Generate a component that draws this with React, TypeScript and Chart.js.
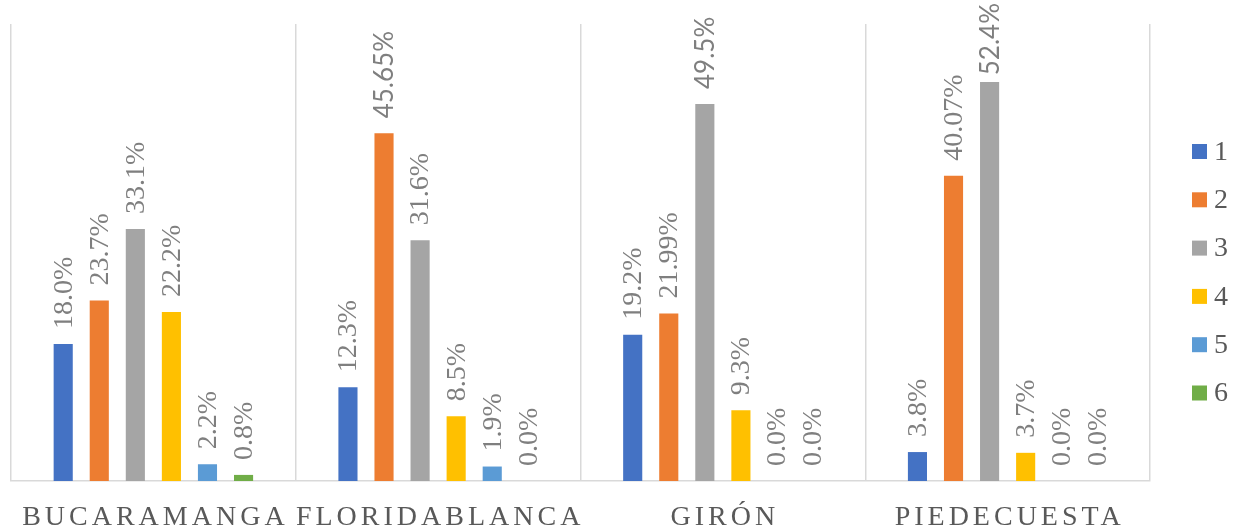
import React, { useEffect, useRef } from "react";
import { Chart, registerables } from "chart.js";

Chart.register(...registerables);

const categories = ["BUCARAMANGA", "FLORIDABLANCA", "GIRÓN", "PIEDECUESTA"];
const seriesNames = ["1", "2", "3", "4", "5", "6"];
const series1 = [18.0, 12.3, 19.2, 3.8];
const series2 = [23.7, 45.65, 21.99, 40.07];
const series3 = [33.1, 31.6, 49.5, 52.4];
const series4 = [22.2, 8.5, 9.3, 3.7];
const series5 = [2.2, 1.9, 0.0, 0.0];
const series6 = [0.8, 0.0, 0.0, 0.0];
const labels1 = ["18.0%", "12.3%", "19.2%", "3.8%"];
const labels2 = ["23.7%", "45.65%", "21.99%", "40.07%"];
const labels3 = ["33.1%", "31.6%", "49.5%", "52.4%"];
const labels4 = ["22.2%", "8.5%", "9.3%", "3.7%"];
const labels5 = ["2.2%", "1.9%", "0.0%", "0.0%"];
const labels6 = ["0.8%", "0.0%", "0.0%", "0.0%"];
const colors = ["#4472C4", "#ED7D31", "#A5A5A5", "#FFC000", "#5B9BD5", "#70AD47"];

const allSeries = [series1, series2, series3, series4, series5, series6];
const allLabels = [labels1, labels2, labels3, labels4, labels5, labels6];
// labels that were rendered in a sans-serif face in the reference
const sansLabels = ["45.65%", "49.5%", "52.4%"];

const SERIF_FONT = '28px "Liberation Serif"';
const SANS_FONT = "26px Lato";

const decorPlugin = {
  id: "decor",
  afterDatasetsDraw(chart: any) {
    const ctx = chart.ctx as CanvasRenderingContext2D;
    chart.data.datasets.forEach((ds: any, di: number) => {
      const meta = chart.getDatasetMeta(di);
      meta.data.forEach((el: any, i: number) => {
        const text = allLabels[di][i];
        const sans = sansLabels.includes(text);
        ctx.save();
        ctx.font = sans ? SANS_FONT : SERIF_FONT;
        ctx.fillStyle = "#7F7F7F";
        ctx.textAlign = "left";
        ctx.textBaseline = "middle";
        const w = ctx.measureText(text).width;
        let start = el.y - 15;
        if (start - w < 3) start = 3 + w;
        ctx.translate(el.x + 1, start);
        ctx.rotate(-Math.PI / 2);
        ctx.fillText(text, 0, 0);
        ctx.restore();
      });
    });
    const xs = chart.scales.x;
    ctx.save();
    ctx.font = SERIF_FONT;
    (ctx as any).letterSpacing = "4px";
    ctx.fillStyle = "#595959";
    ctx.textAlign = "center";
    ctx.textBaseline = "alphabetic";
    categories.forEach((c, i) => {
      const x = xs.getPixelForValue(i);
      ctx.fillText(c, x + 2, 525);
    });
    ctx.restore();
    ctx.save();
    ctx.font = SERIF_FONT;
    ctx.textAlign = "left";
    ctx.textBaseline = "middle";
    seriesNames.forEach((n, i) => {
      const cy = 151.5 + i * 48.3;
      ctx.fillStyle = colors[i];
      ctx.fillRect(1192, cy - 7.5, 15, 15);
      ctx.fillStyle = "#595959";
      ctx.fillText(n, 1214, cy + 1);
    });
    ctx.restore();
  },
};

export default function App() {
  const ref = useRef<HTMLCanvasElement>(null);
  useEffect(() => {
    document.body.style.margin = "0";
    const chart = new Chart(ref.current!, {
      type: "bar",
      data: {
        labels: categories,
        datasets: allSeries.map((d, i) => ({
          label: seriesNames[i],
          data: d,
          backgroundColor: colors[i],
          borderWidth: 0,
          categoryPercentage: 0.76,
          barPercentage: 0.53,
        })),
      },
      options: {
        responsive: false,
        animation: false,
        layout: { padding: { left: 11, right: 86, top: 24, bottom: 48 } },
        plugins: { legend: { display: false }, tooltip: { enabled: false } },
        scales: {
          x: {
            offset: true,
            grid: { offset: true, color: "#D9D9D9", lineWidth: 1.5, drawTicks: false },
            border: { color: "#D9D9D9", width: 1.5 },
            ticks: { display: false },
          },
          y: { display: false, min: 0, max: 60 },
        },
      },
      plugins: [decorPlugin],
    });
    return () => chart.destroy();
  }, []);
  return (
    <canvas
      ref={ref}
      width={1236}
      height={529}
      style={{ display: "block", position: "fixed", left: 0, top: 0 }}
    />
  );
}
